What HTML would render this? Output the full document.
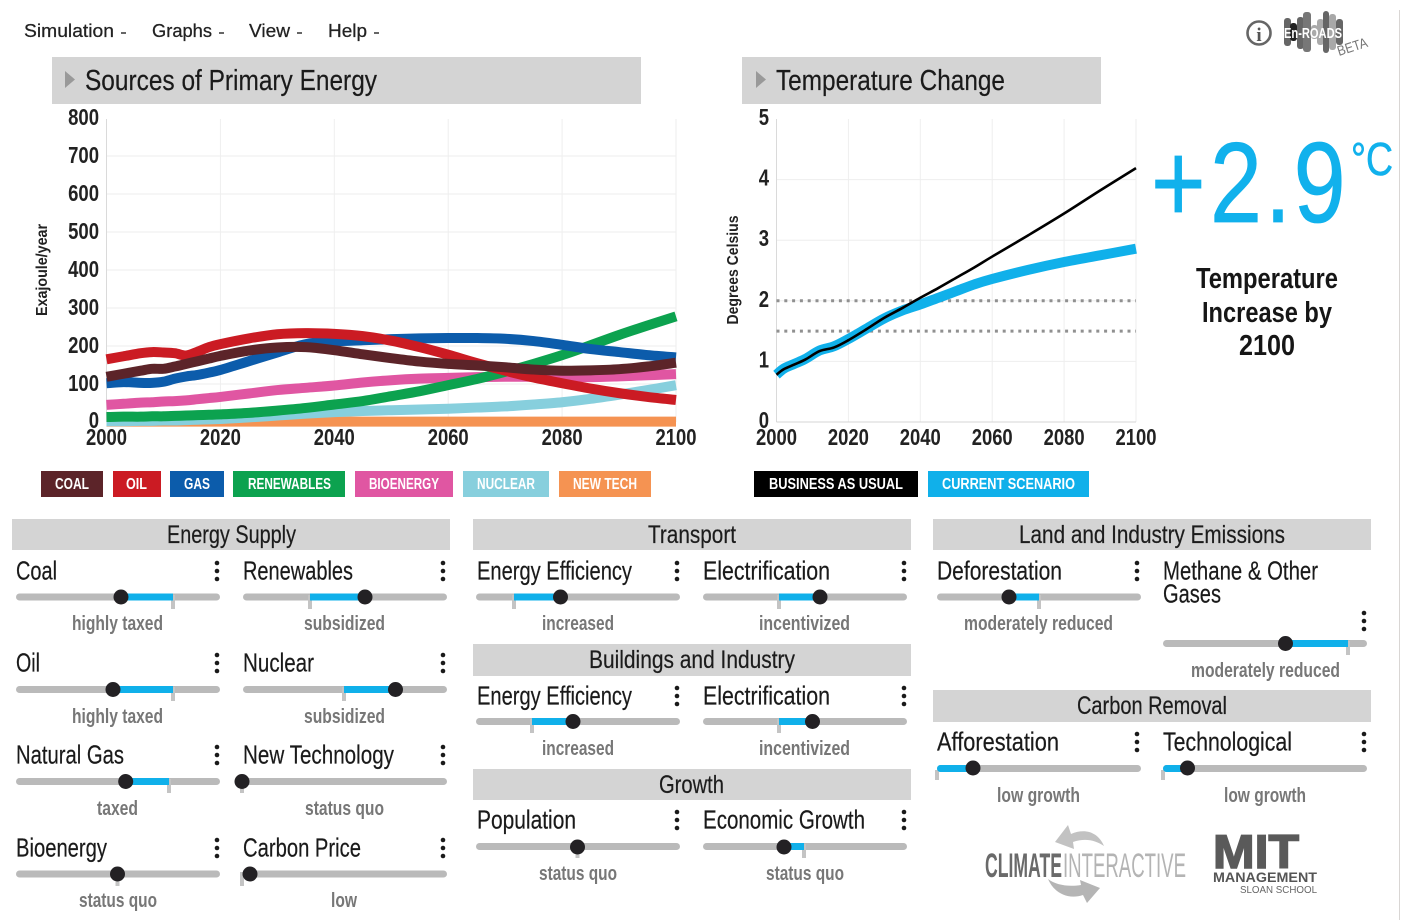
<!DOCTYPE html>
<html lang="en">
<head>
<meta charset="utf-8">
<title>En-ROADS Simulator</title>
<style>
html,body{margin:0;padding:0;background:#fff;width:1411px;height:923px;overflow:hidden}
svg{display:block;position:absolute;left:0;top:0}
text{font-family:"Liberation Sans Narrow","Liberation Sans",sans-serif}
.menu{font-family:"Liberation Sans",sans-serif;font-size:18px;fill:#222;stroke:#222;stroke-width:.25}
.title{font-size:29px;fill:#1a1a1a;stroke:#1a1a1a;stroke-width:.2}
.sec{font-size:25px;fill:#1c1c1c;stroke:#1c1c1c;stroke-width:.2}
.nm{font-size:26px;fill:#1a1a1a;stroke:#1a1a1a;stroke-width:.2;transform:translateY(-.7px)}
.st{font-size:20px;font-weight:bold;fill:#777}
.leg{font-size:16px;font-weight:bold;fill:#fff}
.tick{font-size:23px;font-weight:bold;fill:#222}
.axt{font-size:16px;font-weight:bold;fill:#222}
.trk{fill:#bababa}
.blu{fill:#10b0ea}
.mk{fill:#c4c4c4}
.th{fill:#232124}
.dot{fill:#1a1a1a}
.hdr{fill:#d4d4d4}
</style>
</head>
<body>
<svg width="1411" height="923" viewBox="0 0 1411 923">
<line x1="1399.5" y1="10" x2="1399.5" y2="920" stroke="#d9d6d4"/>

<g>
<text class="menu" x="24" y="37" textLength="90" lengthAdjust="spacingAndGlyphs">Simulation</text>
<rect x="121" y="32" width="5" height="2" fill="#666"/>
<text class="menu" x="152" y="37" textLength="60" lengthAdjust="spacingAndGlyphs">Graphs</text>
<rect x="219" y="32" width="5" height="2" fill="#666"/>
<text class="menu" x="249" y="37" textLength="41" lengthAdjust="spacingAndGlyphs">View</text>
<rect x="297" y="32" width="5" height="2" fill="#666"/>
<text class="menu" x="328" y="37" textLength="39" lengthAdjust="spacingAndGlyphs">Help</text>
<rect x="374" y="32" width="5" height="2" fill="#666"/>
</g>

<g>
<circle cx="1259" cy="33" r="11.5" fill="none" stroke="#666" stroke-width="2.6"/>
<text x="1259" y="41" text-anchor="middle" font-size="19" font-weight="bold" fill="#555" style="font-family:'Liberation Serif',serif">i</text>
</g>
<g>
<rect x="1284" y="18" width="7" height="28" rx="3" fill="#666"/>
<rect x="1290" y="23" width="7" height="18" rx="3" fill="#222"/>
<rect x="1297" y="17" width="7" height="32" rx="3" fill="#666"/>
<rect x="1303" y="12" width="8" height="40" rx="3" fill="#777"/>
<rect x="1311" y="25" width="7" height="14" rx="3" fill="#aaa"/>
<rect x="1317" y="19" width="7" height="26" rx="3" fill="#aaa"/>
<rect x="1323" y="11" width="6" height="42" rx="3" fill="#666"/>
<rect x="1329" y="14" width="7" height="36" rx="3" fill="#a8a8a8"/>
<rect x="1336" y="19" width="7" height="26" rx="3" fill="#666"/>
<text x="1284" y="38" font-size="15" font-weight="bold" fill="#fff" textLength="58" lengthAdjust="spacingAndGlyphs">En-ROADS</text>
<text x="1339" y="56" font-size="14" fill="#777" transform="rotate(-18 1339 56)" textLength="31" lengthAdjust="spacingAndGlyphs">BETA</text>
</g>

<g>
<rect class="hdr" x="52" y="57" width="589" height="47"/>
<polygon points="65,71 75,79.5 65,88" fill="#999"/>
<text class="title" x="85" y="90" textLength="292" lengthAdjust="spacingAndGlyphs">Sources of Primary Energy</text>
</g>
<g>
<rect class="hdr" x="742" y="57" width="359" height="47"/>
<polygon points="756,71 766,79.5 756,88" fill="#999"/>
<text class="title" x="776" y="90" textLength="229" lengthAdjust="spacingAndGlyphs">Temperature Change</text>
</g>

<g id="energy-chart"></g>
<g id="temp-chart"></g>
<text class="axt" transform="translate(47,270) rotate(-90)" text-anchor="middle" textLength="92" lengthAdjust="spacingAndGlyphs">Exajoule/year</text>
<text class="axt" transform="translate(738,270) rotate(-90)" text-anchor="middle" textLength="109" lengthAdjust="spacingAndGlyphs">Degrees Celsius</text>

<g>
<text transform="translate(1151,222) scale(.82,1)" font-size="114" fill="#11b1ec" stroke="#11b1ec" stroke-width=".8" y="0" x="0 72 139 174">+2.9</text>
<text x="1351" y="175" font-size="46" fill="#11b1ec" stroke="#11b1ec" stroke-width=".6" textLength="42" lengthAdjust="spacingAndGlyphs">°C</text>
<text x="1196" y="288" font-size="29" font-weight="bold" fill="#161616" textLength="142" lengthAdjust="spacingAndGlyphs">Temperature</text>
<text x="1202" y="322" font-size="29" font-weight="bold" fill="#161616" textLength="130" lengthAdjust="spacingAndGlyphs">Increase by</text>
<text x="1239" y="355" font-size="29" font-weight="bold" fill="#161616" textLength="56" lengthAdjust="spacingAndGlyphs">2100</text>
</g>

<g>
<g><rect x="41" y="471" width="62" height="26" fill="#5c2429"/><text class="leg" x="55" y="489" textLength="34" lengthAdjust="spacingAndGlyphs">COAL</text></g>
<g><rect x="113" y="471" width="48" height="26" fill="#cb1b23"/><text class="leg" x="126" y="489" textLength="21" lengthAdjust="spacingAndGlyphs">OIL</text></g>
<g><rect x="170" y="471" width="54" height="26" fill="#0c5cab"/><text class="leg" x="184" y="489" textLength="26" lengthAdjust="spacingAndGlyphs">GAS</text></g>
<g><rect x="233" y="471" width="112" height="26" fill="#0ca24f"/><text class="leg" x="248" y="489" textLength="83" lengthAdjust="spacingAndGlyphs">RENEWABLES</text></g>
<g><rect x="355" y="471" width="98" height="26" fill="#e056a2"/><text class="leg" x="369" y="489" textLength="70" lengthAdjust="spacingAndGlyphs">BIOENERGY</text></g>
<g><rect x="463" y="471" width="86" height="26" fill="#87cfdd"/><text class="leg" x="477" y="489" textLength="58" lengthAdjust="spacingAndGlyphs">NUCLEAR</text></g>
<g><rect x="559" y="471" width="92" height="26" fill="#f59352"/><text class="leg" x="573" y="489" textLength="64" lengthAdjust="spacingAndGlyphs">NEW TECH</text></g>
</g>
<g>
<g><rect x="754" y="471" width="164" height="26" fill="#000"/><text class="leg" x="769" y="489" textLength="134" lengthAdjust="spacingAndGlyphs">BUSINESS AS USUAL</text></g>
<g><rect x="928" y="471" width="161" height="26" fill="#10b0ea"/><text class="leg" x="942" y="489" textLength="133" lengthAdjust="spacingAndGlyphs">CURRENT SCENARIO</text></g>
</g>

<!-- Section headers -->
<g><rect class="hdr" x="12" y="519" width="438" height="31"/><text class="sec" x="167" y="543" textLength="129" lengthAdjust="spacingAndGlyphs">Energy Supply</text></g>
<g><rect class="hdr" x="473" y="519" width="438" height="31"/><text class="sec" x="648" y="543" textLength="88" lengthAdjust="spacingAndGlyphs">Transport</text></g>
<g><rect class="hdr" x="473" y="644" width="438" height="32"/><text class="sec" x="589" y="668" textLength="206" lengthAdjust="spacingAndGlyphs">Buildings and Industry</text></g>
<g><rect class="hdr" x="473" y="769" width="438" height="31"/><text class="sec" x="659" y="793" textLength="65" lengthAdjust="spacingAndGlyphs">Growth</text></g>
<g><rect class="hdr" x="933" y="519" width="438" height="31"/><text class="sec" x="1019" y="543" textLength="266" lengthAdjust="spacingAndGlyphs">Land and Industry Emissions</text></g>
<g><rect class="hdr" x="933" y="690" width="438" height="32"/><text class="sec" x="1077" y="714" textLength="150" lengthAdjust="spacingAndGlyphs">Carbon Removal</text></g>

<!-- Sliders: Energy Supply -->
<g><text class="nm" x="16" y="580" textLength="41" lengthAdjust="spacingAndGlyphs">Coal</text><g class="dot"><circle cx="217" cy="563" r="2.3"/><circle cx="217" cy="571" r="2.3"/><circle cx="217" cy="579" r="2.3"/></g><rect class="trk" x="16" y="593.5" width="204" height="7" rx="3.5"/><rect class="mk" x="171" y="595" width="4" height="14"/><rect class="blu" x="121" y="593.5" width="52" height="7"/><circle class="th" cx="121" cy="597" r="7.5"/><text class="st" x="72" y="630" textLength="91" lengthAdjust="spacingAndGlyphs">highly taxed</text></g>
<g><text class="nm" x="243" y="580" textLength="110" lengthAdjust="spacingAndGlyphs">Renewables</text><g class="dot"><circle cx="443" cy="563" r="2.3"/><circle cx="443" cy="571" r="2.3"/><circle cx="443" cy="579" r="2.3"/></g><rect class="trk" x="243" y="593.5" width="204" height="7" rx="3.5"/><rect class="mk" x="308" y="595" width="4" height="14"/><rect class="blu" x="310" y="593.5" width="55" height="7"/><circle class="th" cx="365" cy="597" r="7.5"/><text class="st" x="304" y="630" textLength="81" lengthAdjust="spacingAndGlyphs">subsidized</text></g>
<g><text class="nm" x="16" y="672" textLength="24" lengthAdjust="spacingAndGlyphs">Oil</text><g class="dot"><circle cx="217" cy="655" r="2.3"/><circle cx="217" cy="663" r="2.3"/><circle cx="217" cy="671" r="2.3"/></g><rect class="trk" x="16" y="686" width="204" height="7" rx="3.5"/><rect class="mk" x="171" y="687" width="4" height="14"/><rect class="blu" x="113" y="686" width="60" height="7"/><circle class="th" cx="113" cy="689.5" r="7.5"/><text class="st" x="72" y="723" textLength="91" lengthAdjust="spacingAndGlyphs">highly taxed</text></g>
<g><text class="nm" x="243" y="672" textLength="71" lengthAdjust="spacingAndGlyphs">Nuclear</text><g class="dot"><circle cx="443" cy="655" r="2.3"/><circle cx="443" cy="663" r="2.3"/><circle cx="443" cy="671" r="2.3"/></g><rect class="trk" x="243" y="686" width="204" height="7" rx="3.5"/><rect class="mk" x="342" y="687" width="4" height="14"/><rect class="blu" x="344" y="686" width="52" height="7"/><circle class="th" cx="395.5" cy="689.5" r="7.5"/><text class="st" x="304" y="723" textLength="81" lengthAdjust="spacingAndGlyphs">subsidized</text></g>
<g><text class="nm" x="16" y="764" textLength="108" lengthAdjust="spacingAndGlyphs">Natural Gas</text><g class="dot"><circle cx="217" cy="747" r="2.3"/><circle cx="217" cy="755" r="2.3"/><circle cx="217" cy="763" r="2.3"/></g><rect class="trk" x="16" y="778" width="204" height="7" rx="3.5"/><rect class="mk" x="167" y="779" width="4" height="14"/><rect class="blu" x="126" y="778" width="43" height="7"/><circle class="th" cx="125.7" cy="781.5" r="7.5"/><text class="st" x="97" y="815" textLength="41" lengthAdjust="spacingAndGlyphs">taxed</text></g>
<g><text class="nm" x="243" y="764" textLength="151" lengthAdjust="spacingAndGlyphs">New Technology</text><g class="dot"><circle cx="443" cy="747" r="2.3"/><circle cx="443" cy="755" r="2.3"/><circle cx="443" cy="763" r="2.3"/></g><rect class="trk" x="243" y="778" width="204" height="7" rx="3.5"/><rect class="mk" x="240" y="779" width="4" height="14"/><circle class="th" cx="242" cy="781.5" r="7.5"/><text class="st" x="305" y="815" textLength="79" lengthAdjust="spacingAndGlyphs">status quo</text></g>
<g><text class="nm" x="16" y="857" textLength="91" lengthAdjust="spacingAndGlyphs">Bioenergy</text><g class="dot"><circle cx="217" cy="840" r="2.3"/><circle cx="217" cy="848" r="2.3"/><circle cx="217" cy="856" r="2.3"/></g><rect class="trk" x="16" y="870.5" width="204" height="7" rx="3.5"/><rect class="mk" x="115.5" y="872" width="4" height="14"/><circle class="th" cx="117.5" cy="874" r="7.5"/><text class="st" x="79" y="907" textLength="78" lengthAdjust="spacingAndGlyphs">status quo</text></g>
<g><text class="nm" x="243" y="857" textLength="118" lengthAdjust="spacingAndGlyphs">Carbon Price</text><g class="dot"><circle cx="443" cy="840" r="2.3"/><circle cx="443" cy="848" r="2.3"/><circle cx="443" cy="856" r="2.3"/></g><rect class="trk" x="243" y="870.5" width="204" height="7" rx="3.5"/><rect class="mk" x="240" y="872" width="4" height="14"/><circle class="th" cx="250" cy="874" r="7.5"/><text class="st" x="331" y="907" textLength="26" lengthAdjust="spacingAndGlyphs">low</text></g>

<!-- Sliders: Transport -->
<g><text class="nm" x="477" y="580" textLength="155" lengthAdjust="spacingAndGlyphs">Energy Efficiency</text><g class="dot"><circle cx="677" cy="563" r="2.3"/><circle cx="677" cy="571" r="2.3"/><circle cx="677" cy="579" r="2.3"/></g><rect class="trk" x="476" y="593.5" width="204" height="7" rx="3.5"/><rect class="mk" x="512" y="595" width="4" height="14"/><rect class="blu" x="514" y="593.5" width="46" height="7"/><circle class="th" cx="560.5" cy="597" r="7.5"/><text class="st" x="542" y="630" textLength="72" lengthAdjust="spacingAndGlyphs">increased</text></g>
<g><text class="nm" x="703" y="580" textLength="127" lengthAdjust="spacingAndGlyphs">Electrification</text><g class="dot"><circle cx="904" cy="563" r="2.3"/><circle cx="904" cy="571" r="2.3"/><circle cx="904" cy="579" r="2.3"/></g><rect class="trk" x="703" y="593.5" width="204" height="7" rx="3.5"/><rect class="mk" x="777" y="595" width="4" height="14"/><rect class="blu" x="779" y="593.5" width="41" height="7"/><circle class="th" cx="820" cy="597" r="7.5"/><text class="st" x="759" y="630" textLength="91" lengthAdjust="spacingAndGlyphs">incentivized</text></g>

<!-- Sliders: Buildings -->
<g><text class="nm" x="477" y="705" textLength="155" lengthAdjust="spacingAndGlyphs">Energy Efficiency</text><g class="dot"><circle cx="677" cy="688" r="2.3"/><circle cx="677" cy="696" r="2.3"/><circle cx="677" cy="704" r="2.3"/></g><rect class="trk" x="476" y="718" width="204" height="7" rx="3.5"/><rect class="mk" x="530" y="719" width="4" height="14"/><rect class="blu" x="532" y="718" width="41" height="7"/><circle class="th" cx="573" cy="721.5" r="7.5"/><text class="st" x="542" y="755" textLength="72" lengthAdjust="spacingAndGlyphs">increased</text></g>
<g><text class="nm" x="703" y="705" textLength="127" lengthAdjust="spacingAndGlyphs">Electrification</text><g class="dot"><circle cx="904" cy="688" r="2.3"/><circle cx="904" cy="696" r="2.3"/><circle cx="904" cy="704" r="2.3"/></g><rect class="trk" x="703" y="718" width="204" height="7" rx="3.5"/><rect class="mk" x="777" y="719" width="4" height="14"/><rect class="blu" x="779" y="718" width="33" height="7"/><circle class="th" cx="812.5" cy="721.5" r="7.5"/><text class="st" x="759" y="755" textLength="91" lengthAdjust="spacingAndGlyphs">incentivized</text></g>

<!-- Sliders: Growth -->
<g><text class="nm" x="477" y="829" textLength="99" lengthAdjust="spacingAndGlyphs">Population</text><g class="dot"><circle cx="677" cy="812" r="2.3"/><circle cx="677" cy="820" r="2.3"/><circle cx="677" cy="828" r="2.3"/></g><rect class="trk" x="476" y="843" width="204" height="7" rx="3.5"/><rect class="mk" x="575.5" y="844" width="4" height="14"/><circle class="th" cx="577.5" cy="847" r="7.5"/><text class="st" x="539" y="880" textLength="78" lengthAdjust="spacingAndGlyphs">status quo</text></g>
<g><text class="nm" x="703" y="829" textLength="162" lengthAdjust="spacingAndGlyphs">Economic Growth</text><g class="dot"><circle cx="904" cy="812" r="2.3"/><circle cx="904" cy="820" r="2.3"/><circle cx="904" cy="828" r="2.3"/></g><rect class="trk" x="703" y="843" width="204" height="7" rx="3.5"/><rect class="mk" x="802" y="844" width="4" height="14"/><rect class="blu" x="784" y="843" width="20" height="7"/><circle class="th" cx="784" cy="847" r="7.5"/><text class="st" x="766" y="880" textLength="78" lengthAdjust="spacingAndGlyphs">status quo</text></g>

<!-- Sliders: Land -->
<g><text class="nm" x="937" y="580" textLength="125" lengthAdjust="spacingAndGlyphs">Deforestation</text><g class="dot"><circle cx="1137" cy="563" r="2.3"/><circle cx="1137" cy="571" r="2.3"/><circle cx="1137" cy="579" r="2.3"/></g><rect class="trk" x="937" y="593.5" width="204" height="7" rx="3.5"/><rect class="mk" x="1037" y="595" width="4" height="14"/><rect class="blu" x="1009" y="593.5" width="30" height="7"/><circle class="th" cx="1009" cy="597" r="7.5"/><text class="st" x="964" y="630" textLength="149" lengthAdjust="spacingAndGlyphs">moderately reduced</text></g>
<g><text class="nm" x="1163" y="580" textLength="155" lengthAdjust="spacingAndGlyphs">Methane &amp; Other</text><text class="nm" x="1163" y="603" textLength="58" lengthAdjust="spacingAndGlyphs">Gases</text><g class="dot"><circle cx="1364" cy="613" r="2.3"/><circle cx="1364" cy="621" r="2.3"/><circle cx="1364" cy="629" r="2.3"/></g><rect class="trk" x="1163" y="640" width="204" height="7" rx="3.5"/><rect class="mk" x="1346" y="641" width="4" height="14"/><rect class="blu" x="1285" y="640" width="63" height="7"/><circle class="th" cx="1285.5" cy="643.5" r="7.5"/><text class="st" x="1191" y="677" textLength="149" lengthAdjust="spacingAndGlyphs">moderately reduced</text></g>

<!-- Sliders: Carbon removal -->
<g><text class="nm" x="937" y="751" textLength="122" lengthAdjust="spacingAndGlyphs">Afforestation</text><g class="dot"><circle cx="1137" cy="734" r="2.3"/><circle cx="1137" cy="742" r="2.3"/><circle cx="1137" cy="750" r="2.3"/></g><rect class="trk" x="937" y="765" width="204" height="7" rx="3.5"/><rect class="mk" x="935" y="770" width="4" height="10"/><rect class="blu" x="937" y="765" width="36" height="7" rx="3.5"/><circle class="th" cx="973" cy="768" r="7.5"/><text class="st" x="997" y="802" textLength="83" lengthAdjust="spacingAndGlyphs">low growth</text></g>
<g><text class="nm" x="1163" y="751" textLength="129" lengthAdjust="spacingAndGlyphs">Technological</text><g class="dot"><circle cx="1364" cy="734" r="2.3"/><circle cx="1364" cy="742" r="2.3"/><circle cx="1364" cy="750" r="2.3"/></g><rect class="trk" x="1163" y="765" width="204" height="7" rx="3.5"/><rect class="mk" x="1161" y="770" width="4" height="10"/><rect class="blu" x="1163" y="765" width="24" height="7" rx="3.5"/><circle class="th" cx="1187.5" cy="768" r="7.5"/><text class="st" x="1224" y="802" textLength="82" lengthAdjust="spacingAndGlyphs">low growth</text></g>

<!-- Logos -->
<g>
<path d="M1055 842 L1068 825 L1071 834 C1085 828 1098 832 1104 846 C1095 840 1085 838 1073 842 L1074 849 Z" fill="#c2c2c2"/>
<path d="M1100 888 L1087 903 L1083 895 C1068 900 1054 893 1048 879 C1056 885 1068 887 1081 885 L1080 880 Z" fill="#b5b5b5"/>
<text x="985" y="877" font-size="34" font-weight="bold" fill="#6a6a6a" textLength="77" lengthAdjust="spacingAndGlyphs">CLIMATE</text>
<text x="1063" y="877" font-size="34" fill="#b4b4b4" textLength="123" lengthAdjust="spacingAndGlyphs">INTERACTIVE</text>
</g>
<g>
<text x="1213" y="868" font-size="47" font-weight="bold" fill="#5a5a5a" stroke="#5a5a5a" stroke-width="1.6" textLength="86" lengthAdjust="spacingAndGlyphs" style="font-family:'Liberation Sans',sans-serif">MIT</text>
<text x="1213" y="882" font-size="14" font-weight="bold" fill="#555" textLength="104" lengthAdjust="spacingAndGlyphs" style="font-family:'Liberation Sans',sans-serif">MANAGEMENT</text>
<text x="1240" y="893" font-size="10" fill="#666" textLength="77" lengthAdjust="spacingAndGlyphs" style="font-family:'Liberation Sans',sans-serif">SLOAN SCHOOL</text>
</g>
</svg>

<script>
// Energy chart data (exajoule/year)
const energyYears = [2000,2003,2006,2008,2010,2012,2014,2016,2018,2020,2025,2030,2035,2040,2045,2050,2055,2060,2065,2070,2075,2080,2085,2090,2095,2100];
const coalValues = [119,127,135,140,140,146,153,160,167,174,188,196,197,189,178,168,159,153,149,144,138,135,136,139,146,156];
const oilValues = [165,173,181,184,183,181,175,185,197,205,220,231,234,232,226,214,197,177,155,135,117,102,88,76,66,58];
const gasValues = [102,105,103,103,106,114,120,124,130,137,160,183,205,212,215,218,220,221,221,219,213,203,192,184,176,170];
const renewablesValues = [13,14,14,15,15,16,17,18,19,20,24,30,37,46,55,68,81,97,113,132,153,176,202,229,254,278];
const bioenergyValues = [45,48,51,52,54,55,57,60,63,66,75,84,90,96,104,110,114,116,118,119,119,118,118,120,123,126];
const nuclearValues = [2,2,3,3,4,4,5,6,7,8,12,17,22,26,29,31,33,35,38,41,46,52,61,72,84,97];
const newTechValues = [1,1,1,1,1,1,1,1,1,1,1,1,1,1,1,1,1,1,1,1,1,1,1,1,1,1];
const energyYTicks = [0,100,200,300,400,500,600,700,800];
const xTickYears = [2000,2020,2040,2060,2080,2100];

// Temperature chart data (degrees Celsius)
const tempYears = [2000,2002,2005,2008,2012,2016,2020,2025,2030,2035,2040,2045,2050,2055,2060,2070,2080,2090,2100];
const businessAsUsualValues = [0.78,0.87,0.95,1.03,1.17,1.23,1.35,1.53,1.72,1.88,2.05,2.21,2.38,2.55,2.73,3.08,3.44,3.82,4.19];
const currentScenarioValues = [0.78,0.88,0.96,1.04,1.18,1.25,1.37,1.54,1.71,1.84,1.94,2.05,2.16,2.27,2.36,2.51,2.64,2.75,2.86];
const tempYTicks = [0,1,2,3,4,5];
const thresholdValues = [1.5,2];

const NS = 'http://www.w3.org/2000/svg';
function mk(parent, tag, attrs, text) {
  const el = document.createElementNS(NS, tag);
  for (const k in attrs) el.setAttribute(k, attrs[k]);
  if (text !== undefined) el.textContent = text;
  parent.appendChild(el);
  return el;
}
function curve(xs, ys) {
  let d = 'M' + xs[0].toFixed(2) + ' ' + ys[0].toFixed(2);
  for (let i = 0; i < xs.length - 1; i++) {
    const a = Math.max(i - 1, 0), b = Math.min(i + 2, xs.length - 1);
    const c1x = xs[i] + (xs[i + 1] - xs[a]) / 6, c1y = ys[i] + (ys[i + 1] - ys[a]) / 6;
    const c2x = xs[i + 1] - (xs[b] - xs[i]) / 6, c2y = ys[i + 1] - (ys[b] - ys[i]) / 6;
    d += 'C' + c1x.toFixed(2) + ' ' + c1y.toFixed(2) + ' ' + c2x.toFixed(2) + ' ' + c2y.toFixed(2) + ' ' + xs[i + 1].toFixed(2) + ' ' + ys[i + 1].toFixed(2);
  }
  return d;
}

// Energy chart axes
const ex = v => 106.5 + (v - 2000) * (676 - 106.5) / 100;
const ey = v => 422 - v * 0.38;
// Temperature chart axes
const tx = v => 776.5 + (v - 2000) * (1136 - 776.5) / 100;
const ty = v => 422 - v * 60.6;

function drawAxes(root, prefix, xf, yf, yTicks, x0, x1, yTop, yBottom, labelX, labelShift) {
  const topTick = yTicks[yTicks.length - 1];
  yTicks.forEach(t => {
    if (t !== 0 && t !== topTick) {
      const g = mk(root, 'line', {x1: x0, x2: x1, y1: yf(t), y2: yf(t), stroke: '#eeeeee', 'stroke-width': 1});
      
      
    }
    const lab = mk(root, 'text', {class: 'tick', x: labelX, y: t === 0 ? 428 : yf(t) + labelShift, 'text-anchor': 'end'}, String(t));
    lab.setAttribute('textLength', String(t).length * 10.3);
    lab.setAttribute('lengthAdjust', 'spacingAndGlyphs');
    
    
  });
  xTickYears.forEach(t => {
    const g = mk(root, 'line', {x1: xf(t), x2: xf(t), y1: yTop, y2: yBottom, stroke: t === 2000 ? '#dadada' : '#eeeeee', 'stroke-width': 1});
    
    
    const lab = mk(root, 'text', {class: 'tick', x: xf(t), y: 445, 'text-anchor': 'middle'}, String(t));
    lab.setAttribute('textLength', 41);
    lab.setAttribute('lengthAdjust', 'spacingAndGlyphs');
    
    
  });
  const base = mk(root, 'line', {x1: x0, x2: x1, y1: yBottom, y2: yBottom, stroke: '#d4d4d4', 'stroke-width': 1});
  
  
}

const eRoot = document.getElementById('energy-chart');
drawAxes(eRoot, 'energy', ex, ey, energyYTicks, 106.5, 676, 119, 422, 99, 7);
const energySeries = [
  ['new-tech', newTechValues, '#f59352'],
  ['nuclear', nuclearValues, '#87cfdd'],
  ['bioenergy', bioenergyValues, '#e056a2'],
  ['renewables', renewablesValues, '#0ca24f'],
  ['gas', gasValues, '#0c5cab'],
  ['oil', oilValues, '#cb1b23'],
  ['coal', coalValues, '#5c2429']
];
energySeries.forEach(s => {
  const p = mk(eRoot, 'path', {d: curve(energyYears.map(ex), s[1].map(ey)), fill: 'none', stroke: s[2], 'stroke-width': 10, 'stroke-linejoin': 'round'});
  
  
});

const tRoot = document.getElementById('temp-chart');
drawAxes(tRoot, 'temperature', tx, ty, tempYTicks, 776.5, 1136, 119, 422, 769, 6);
thresholdValues.forEach(v => {
  const l = mk(tRoot, 'line', {x1: tx(2000), x2: tx(2100), y1: ty(v), y2: ty(v), stroke: '#909090', 'stroke-width': 3, 'stroke-dasharray': '3 4.8'});
  
  
});
const cur = mk(tRoot, 'path', {d: curve(tempYears.map(tx), currentScenarioValues.map(ty)), fill: 'none', stroke: '#10b0ea', 'stroke-width': 10});


const bau = mk(tRoot, 'path', {d: curve(tempYears.map(tx), businessAsUsualValues.map(ty)), fill: 'none', stroke: '#000', 'stroke-width': 2.6});


</script>
</body>
</html>
